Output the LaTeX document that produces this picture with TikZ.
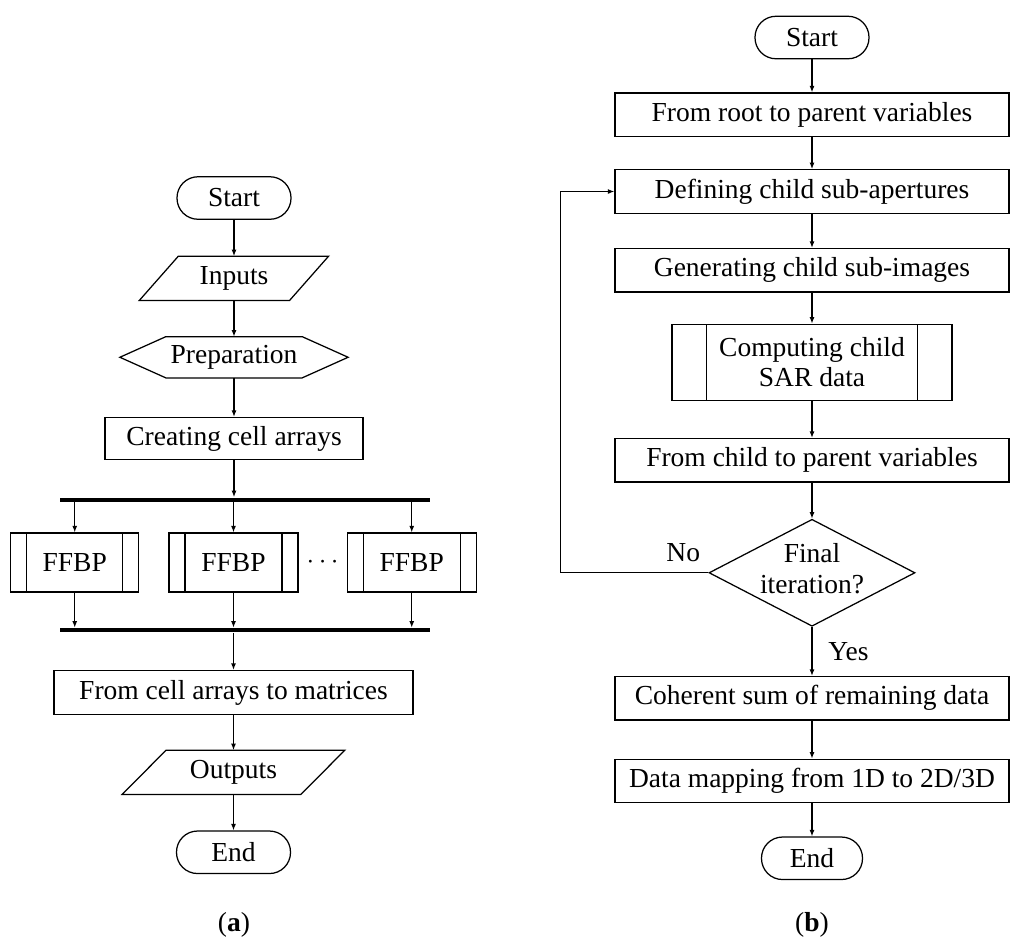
\documentclass[tikz,border=0pt]{standalone}
\usepackage{fontspec}
\setmainfont{Liberation Serif}
\usetikzlibrary{arrows.meta,positioning,shapes.geometric,calc}

\begin{document}
\begin{tikzpicture}[
  x=0.4pt,y=-0.4pt,
  line width=0.5pt,
  font=\fontsize{11}{12}\selectfont,
  node distance=14.5pt,
  term/.style={draw,rounded corners=8.4pt,minimum width=45.6pt,minimum height=17pt,inner sep=0pt},
  proc/.style={draw,minimum height=17.4pt,inner sep=0pt},
  io/.style={minimum height=17.2pt,inner sep=0pt},
  sub/.style={draw,minimum height=23.6pt,inner sep=0pt,
    path picture={\draw ([xshift=#1]path picture bounding box.north west) -- ([xshift=#1]path picture bounding box.south west)
      ([xshift=-#1]path picture bounding box.north east) -- ([xshift=-#1]path picture bounding box.south east);}},
  sub/.default=6.4pt,
  bar/.style={fill=black,minimum width=148pt,minimum height=1.6pt,inner sep=0pt},
  flow/.style={-{Latex[length=2.6pt,width=2pt]}}
]
  \useasboundingbox (0,0) rectangle (1011,943);

  % (a)
  \node[term] (starta) at (234,198) {Start};
  \node[io,minimum width=59.6pt,below=of starta] (inputs) {Inputs};
  \node[io,minimum width=54pt,minimum height=16pt,below=of inputs] (prep) {Preparation};
  \node[proc,minimum width=103.2pt,minimum height=16.8pt,below=15.6pt of prep] (cells) {Creating cell arrays};
  \node[bar,below=14.8pt of cells,xshift=4.4pt] (fork) {};
  \node[sub,minimum width=51.6pt] (ffbpb) at (233.5,562.5) {FFBP};
  \node[sub,minimum width=51.2pt,left=11.6pt of ffbpb] (ffbpa) {FFBP};
  \node[sub,minimum width=51.6pt,right=19.2pt of ffbpb] (ffbpc) {FFBP};
  \node (dots) at ($(ffbpb.east)!.5!(ffbpc.west)$) {$\cdots$};
  \node[bar,below=14pt of ffbpb,xshift=4.6pt] (join) {};
  \node[proc,minimum width=143.6pt,minimum height=17.6pt,below=14.8pt of join,xshift=-4.6pt] (matrices) {From cell arrays to matrices};
  \node[io,minimum width=71pt,below=14pt of matrices] (outputs) {Outputs};
  \node[term,below=14.4pt of outputs] (enda) {End};

  \draw ([xshift=-7.8pt]inputs.south west) -- ([xshift=7.8pt]inputs.north west)
    -- ([xshift=7.8pt]inputs.north east) -- ([xshift=-7.8pt]inputs.south east) -- cycle;
  \draw (prep.north west) -- ([xshift=-18.4pt]prep.west) -- (prep.south west)
    -- (prep.south east) -- ([xshift=18.4pt]prep.east) -- (prep.north east) -- cycle;
  \draw ([xshift=-8.8pt]outputs.south west) -- ([xshift=8.8pt]outputs.north west)
    -- ([xshift=8.8pt]outputs.north east) -- ([xshift=-8.8pt]outputs.south east) -- cycle;

  \draw[flow] (starta) -- (inputs);
  \draw[flow] (inputs) -- (prep);
  \draw[flow] (prep) -- (cells);
  \draw[flow] (cells) -- (cells |- fork.north);
  \foreach \b in {ffbpa,ffbpb,ffbpc} {
    \draw[flow] (fork.south -| \b) -- (\b);
    \draw[flow] (\b) -- (\b |- join.north);
  }
  \draw[flow] (join.south -| matrices) -- (matrices);
  \draw[flow] (matrices) -- (outputs);
  \draw[flow] (outputs) -- (enda);

  % (b)
  \node[term] (startb) at (812,37.5) {Start};
  \node[proc,minimum width=157.6pt,below=13.2pt of startb] (root) {From root to parent variables};
  \node[proc,minimum width=157.6pt,below=12.8pt of root] (define) {Defining child sub-apertures};
  \node[proc,minimum width=157.6pt,below=13.6pt of define] (gen) {Generating child sub-images};
  \node[sub=13.8pt,minimum width=112pt,minimum height=30.4pt,align=center,below=12.4pt of gen] (comp) {Computing child\\SAR data};
  \node[proc,minimum width=157.6pt,below=14.8pt of comp] (child) {From child to parent variables};
  \node[diamond,draw,minimum width=82.4pt,minimum height=42.8pt,inner sep=0pt,below=14.4pt of child,
    label={[align=center,yshift=1.6pt,font=\fontsize{11}{12.5}\selectfont]center:Final\\iteration?}] (final) {};
  \node[proc,minimum width=157.6pt,below=19.6pt of final] (coherent) {Coherent sum of remaining data};
  \node[proc,minimum width=157.6pt,below=15.2pt of coherent] (mapping) {Data mapping from 1D to 2D/3D};
  \node[term,minimum width=40.4pt,below=13.2pt of mapping] (endb) {End};

  \draw[flow] (startb) -- (root);
  \draw[flow] (root) -- (define);
  \draw[flow] (define) -- (gen);
  \draw[flow] (gen) -- (comp);
  \draw[flow] (comp) -- (child);
  \draw[flow] (child) -- (final);
  \draw[flow] (final) -- node[right=3pt]{Yes} (coherent);
  \draw[flow] (coherent) -- (mapping);
  \draw[flow] (mapping) -- (endb);
  \draw[flow] (final.west) -- ++(-148,0) node[pos=.17,above=1pt]{No} |- (define.west);

  \node (capa) at (234,925) {(\textbf{a})};
  \node (capb) at (812,925) {(\textbf{b})};
\end{tikzpicture}
\end{document}
